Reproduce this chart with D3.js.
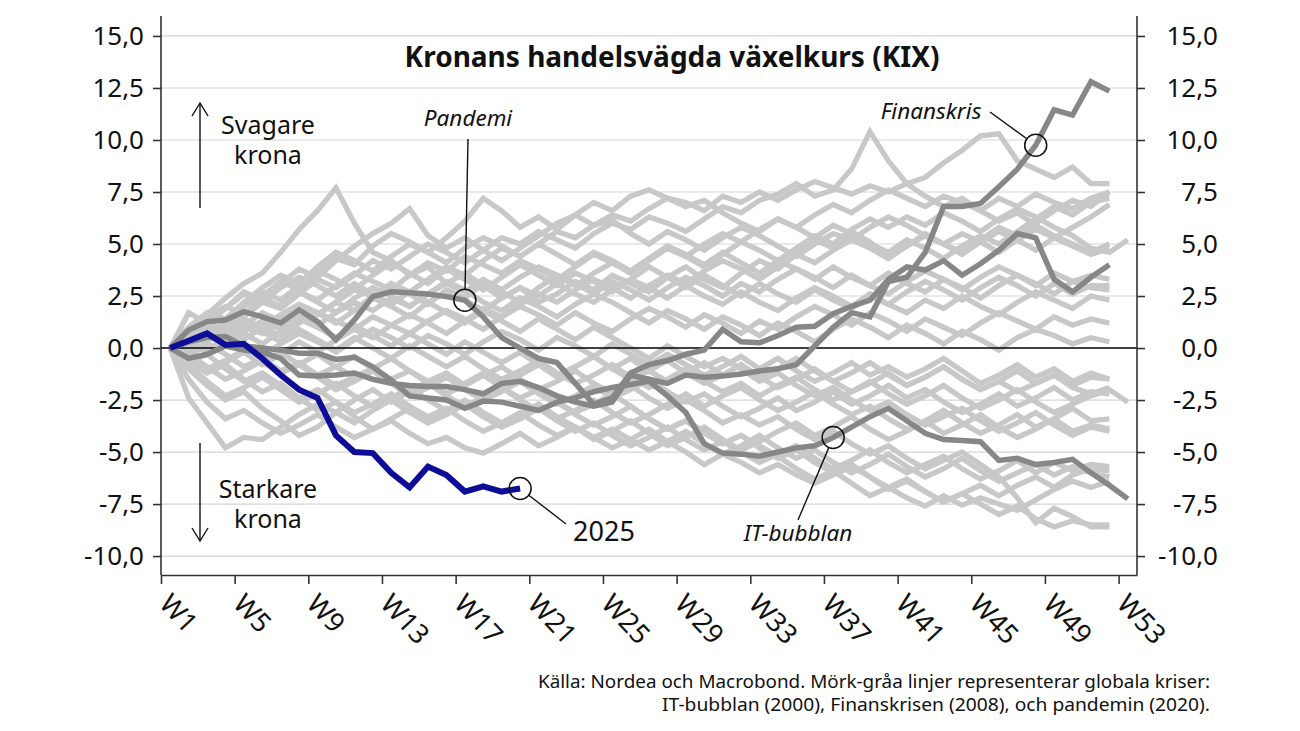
<!DOCTYPE html>
<html><head><meta charset="utf-8">
<script src="https://cdn.jsdelivr.net/npm/d3@7"></script>
<style>
body{margin:0;background:#fff}
svg{display:block}
text{font-family:"Noto Sans",sans-serif;fill:#111}
</style>
</head><body>
<svg id="chart" width="1300" height="731"></svg>
<script>
// ---------- DATA ----------
const weekTicks = [1,5,9,13,17,21,25,29,33,37,41,45,49,53];
const yTicks = [-10,-7.5,-5,-2.5,0,2.5,5,7.5,10,12.5,15];

// 2025 (blue)
const year2025 = [0,0.35,0.7,0.15,0.2,-0.5,-1.3,-2.0,-2.4,-4.2,-5.0,-5.05,-6.0,-6.7,-5.7,-6.1,-6.9,-6.65,-6.9,-6.75];

// crisis years (dark grey)
const pandemi = [0,0.87,1.27,1.35,1.75,1.5,1.2,1.83,1.27,0.4,1.35,2.47,2.7,2.66,2.6,2.47,2.3,1.5,0.5,0.0,-0.5,-0.7,-1.7,-2.7,-2.4,-1.2,-0.8,-0.6,-0.3,-0.1,0.9,0.3,0.25,0.6,1.0,1.05,1.65,2.0,2.3,3.3,3.9,3.75,4.2,3.5,4.05,4.7,5.5,5.3,3.3,2.7,3.4,4.0];
const finanskris = [0,-0.5,-0.3,0.1,-0.1,-0.2,-0.5,-1.3,-1.35,-1.3,-1.2,-1.5,-1.7,-1.8,-1.85,-1.85,-2.0,-2.2,-1.7,-1.6,-1.9,-2.3,-2.6,-2.8,-2.6,-1.3,-1.5,-1.7,-1.3,-1.4,-1.35,-1.25,-1.1,-1.0,-0.8,0.1,1.0,1.7,1.5,3.2,3.4,4.6,6.8,6.8,6.95,7.75,8.6,9.75,11.45,11.2,12.8,12.35];
const itBubblan = [0,0.3,0.5,0.55,0.1,0.0,-0.1,-0.25,-0.25,-0.55,-0.45,-0.9,-1.55,-2.3,-2.4,-2.5,-2.9,-2.55,-2.6,-2.8,-3.0,-2.6,-2.4,-2.1,-1.9,-1.75,-1.6,-2.3,-3.1,-4.6,-5.05,-5.1,-5.2,-5.0,-4.8,-4.7,-4.3,-3.8,-3.3,-2.9,-3.5,-4.1,-4.4,-4.45,-4.5,-5.4,-5.3,-5.6,-5.5,-5.35,-6.0,-6.6,-7.25];

// other years (light grey)
const otherYears = [
 [0,0.9,1.6,2.4,3.1,3.6,4.6,5.7,6.6,7.7,6.0,4.6,4.2,3.5,3.9,3.1,3.6,3.0,2.4,2.9,2.2,2.6,3.2,2.8,3.5,3.1,2.7,3.4,3.9,3.3,2.9,3.6,4.2,3.8,4.5,5.2,4.8,5.6,5.1,4.4,4.9,5.5,5.0,4.6,5.2,5.8,5.4,6.0,6.6,7.1,6.8,7.5],
 [0,0.5,1.1,0.8,1.5,2.2,1.9,2.6,3.3,2.9,3.5,4.2,3.8,4.4,5.0,4.6,4.1,4.7,5.3,5.0,5.6,5.2,4.8,5.5,6.0,5.7,6.3,6.0,5.6,6.2,6.8,6.5,7.1,7.4,7.9,7.3,7.6,8.6,10.4,9.0,7.9,7.3,6.8,7.2,6.6,6.1,6.5,5.9,5.4,5.0,4.6,5.0],
 [0,0.3,-0.2,0.4,1.0,0.7,1.3,1.9,1.6,2.2,2.8,2.5,3.1,2.7,3.3,3.9,3.5,4.2,4.8,4.4,5.0,5.6,5.3,5.9,6.4,6.1,6.7,7.2,7.0,6.6,7.3,7.0,7.5,7.1,7.6,8.0,7.7,7.4,7.8,7.5,7.9,8.2,8.9,9.5,10.2,10.3,9.0,8.6,8.2,8.7,7.9,7.9],
 [0,0.6,1.4,2.0,1.6,2.5,3.2,2.8,3.6,4.3,4.0,4.9,5.5,5.1,4.6,5.3,6.1,7.2,6.6,5.8,6.3,5.7,6.4,7.0,6.6,7.3,7.6,7.2,6.8,7.1,6.5,6.0,5.6,6.2,5.8,5.3,5.9,5.5,5.0,4.6,5.2,4.8,4.3,4.9,5.4,5.0,5.6,6.2,6.8,6.4,7.0,7.2],
 [0,0.4,1.2,1.9,2.7,2.3,3.1,3.8,3.4,4.2,4.9,5.5,6.0,6.7,5.4,4.8,5.3,4.7,4.2,4.8,5.4,6.0,6.4,5.9,6.15,5.5,5.0,5.6,5.2,4.7,5.3,5.8,5.4,4.9,4.4,5.0,5.5,5.2,5.8,6.3,5.9,5.4,5.0,5.5,5.1,4.6,5.2,5.7,5.3,5.8,6.3,6.9],
 [0,0.7,0.3,1.0,1.6,2.4,2.0,2.7,2.3,3.0,3.6,3.2,2.8,3.5,4.1,3.7,4.4,4.0,3.6,4.2,3.8,3.3,3.9,4.5,4.1,3.6,4.2,4.8,4.4,3.9,4.5,5.1,4.7,4.2,4.8,5.4,5.0,5.7,6.2,5.8,6.3,5.9,6.5,6.1,5.6,6.2,6.7,6.3,5.8,5.4,4.8,4.6,5.2],
 [0,0.2,0.8,0.5,1.1,1.7,1.3,2.0,1.6,2.2,1.8,2.5,3.0,2.6,2.1,2.8,2.4,3.1,2.7,2.2,2.9,3.5,3.1,2.6,3.2,2.8,2.3,2.9,3.4,3.0,2.5,3.1,2.7,3.3,3.8,3.4,2.9,3.5,3.0,2.6,3.2,3.7,3.3,2.8,3.4,3.9,3.5,3.0,3.6,3.2,3.5,3.3],
 [0,-0.3,0.3,0.8,0.4,1.0,0.6,1.2,1.7,1.3,0.9,1.5,1.1,0.7,1.3,1.8,1.4,0.9,1.5,2.0,1.6,1.1,1.7,1.2,0.8,1.4,1.9,1.5,1.0,1.6,1.2,0.7,1.3,0.9,1.5,2.0,1.6,1.1,1.7,1.3,0.8,1.4,1.0,0.6,1.2,1.7,1.3,0.9,1.5,1.1,1.4,1.2],
 [0,0.5,1.2,0.9,1.6,2.3,2.0,2.7,2.2,1.7,2.4,2.9,2.5,2.0,2.6,3.2,2.8,2.2,1.8,2.4,2.0,1.5,2.1,2.6,2.2,1.7,1.2,1.8,1.4,0.9,1.5,1.1,0.6,1.2,0.8,0.3,0.9,1.4,1.0,0.5,1.1,0.7,0.2,0.8,0.4,-0.1,0.5,0.9,0.6,0.2,0.5,0.3],
 [0,1.0,1.7,1.4,2.2,2.9,3.5,3.1,3.9,4.6,4.2,3.7,4.4,5.0,4.6,4.1,4.8,5.3,4.9,4.4,5.0,4.5,4.0,4.6,4.2,3.7,4.3,4.9,4.5,4.0,4.6,4.1,3.6,4.2,3.8,3.3,3.9,3.4,3.0,3.6,3.1,2.7,3.3,2.9,2.4,3.0,3.5,3.1,2.6,3.2,2.9,2.8],
 [0,1.7,1.2,0.7,1.4,1.0,1.6,2.1,1.7,1.2,1.8,2.4,2.0,1.5,2.2,2.7,2.3,1.8,2.4,2.9,2.5,3.1,2.6,2.2,2.8,3.3,2.9,2.4,3.0,2.5,2.1,2.7,2.2,1.8,2.4,2.9,2.5,2.0,2.6,2.1,1.7,2.3,1.9,2.5,2.0,1.6,2.2,2.7,2.3,1.9,2.5,2.3],
 [0,-2.4,-3.6,-4.8,-4.3,-4.4,-3.8,-3.2,-2.7,-3.1,-2.5,-2.0,-2.6,-2.1,-1.6,-2.2,-1.7,-1.2,-1.8,-1.3,-0.8,-1.4,-0.9,-0.4,-1.0,-0.5,-1.1,-1.6,-1.2,-0.7,-1.3,-0.8,-1.4,-1.9,-1.5,-1.0,-1.6,-2.1,-1.7,-1.2,-1.8,-1.4,-0.9,-1.5,-2.0,-1.6,-1.1,-1.7,-1.3,-1.8,-1.4,-1.5],
 [0,-0.6,-1.2,-0.8,-1.5,-2.1,-1.7,-2.4,-3.0,-2.6,-3.3,-3.9,-3.5,-4.1,-4.6,-4.3,-4.8,-5.05,-4.6,-4.1,-4.7,-4.3,-3.8,-4.4,-4.0,-3.5,-4.1,-4.7,-4.3,-3.8,-4.4,-4.9,-4.5,-4.0,-3.6,-4.2,-3.8,-3.3,-3.9,-4.4,-4.0,-3.5,-4.1,-3.7,-3.2,-3.8,-4.3,-3.9,-3.4,-4.0,-3.7,-3.9],
 [0,-1.0,-1.8,-2.5,-2.1,-2.9,-3.5,-4.2,-3.8,-3.1,-3.6,-3.0,-2.5,-3.1,-3.6,-3.2,-2.7,-3.3,-3.8,-3.4,-2.9,-3.5,-4.0,-3.6,-4.2,-4.7,-4.3,-3.8,-4.4,-4.9,-4.5,-5.0,-5.5,-5.1,-4.7,-5.3,-5.8,-5.4,-4.9,-5.5,-6.0,-5.6,-5.2,-5.8,-6.3,-5.9,-5.4,-6.0,-5.5,-5.9,-5.6,-5.7],
 [0,-0.4,0.2,-0.3,-0.9,-0.5,-1.1,-0.7,-1.3,-1.8,-1.4,-1.0,-1.6,-2.1,-1.7,-2.3,-2.8,-2.4,-1.9,-2.5,-3.0,-2.6,-3.2,-3.7,-3.3,-2.8,-3.4,-3.9,-3.5,-4.1,-4.6,-4.2,-4.8,-5.3,-4.9,-5.5,-6.0,-5.6,-6.2,-6.7,-6.3,-6.9,-7.4,-7.0,-7.5,-8.0,-7.6,-8.2,-8.6,-8.3,-8.5,-8.5],
 [0,0.3,-0.2,0.4,-0.1,-0.6,-0.2,-0.8,-1.3,-0.9,-0.4,-1.0,-1.5,-1.1,-1.7,-2.2,-1.8,-1.3,-1.9,-2.4,-2.0,-2.6,-3.1,-2.7,-2.2,-2.8,-3.4,-3.9,-3.5,-4.0,-4.6,-4.2,-4.7,-5.2,-5.8,-6.3,-5.9,-6.5,-7.1,-6.7,-7.2,-7.6,-7.1,-7.55,-7.2,-7.5,-7.8,-7.3,-6.8,-6.4,-6.7,-6.4],
 [0,-0.5,-1.0,-0.6,-0.1,-0.7,-1.2,-0.8,-0.3,-0.9,-1.4,-1.0,-0.5,-1.1,-1.6,-1.2,-1.8,-1.3,-0.9,-1.5,-2.0,-1.6,-1.1,-1.7,-2.2,-1.8,-2.4,-2.9,-2.5,-3.0,-3.6,-3.2,-3.7,-3.3,-3.9,-4.4,-4.0,-4.6,-5.1,-4.7,-5.3,-5.8,-5.4,-5.0,-5.6,-6.2,-7.2,-8.4,-7.7,-8.1,-8.6,-8.6],
 [0,0.5,1.0,0.6,1.2,0.8,0.3,0.9,0.4,-0.1,0.5,0.0,-0.5,0.1,-0.4,-0.9,-0.4,-1.0,-1.5,-1.1,-0.6,-1.2,-1.7,-1.3,-0.8,-1.4,-1.9,-1.5,-1.0,-1.6,-2.1,-1.7,-2.3,-1.8,-1.4,-2.0,-2.5,-2.1,-1.6,-2.2,-2.7,-2.3,-1.8,-2.4,-2.9,-2.5,-2.0,-2.6,-3.1,-2.7,-2.3,-2.0,-2.6],
 [0,-0.8,-1.6,-2.3,-1.9,-1.4,-2.0,-2.6,-2.2,-1.7,-2.3,-2.8,-2.4,-1.9,-2.5,-3.0,-2.6,-3.2,-3.7,-3.3,-2.8,-3.4,-3.0,-2.5,-3.1,-3.6,-3.2,-2.7,-2.2,-2.8,-2.3,-1.9,-2.5,-3.0,-2.6,-2.1,-2.7,-3.2,-2.8,-3.4,-3.9,-3.5,-3.0,-3.6,-4.1,-3.7,-3.2,-3.8,-3.4,-2.9,-3.5,-3.4],
 [0,-0.2,0.5,1.1,0.7,0.2,0.8,1.4,1.0,0.5,1.1,0.6,0.1,0.7,0.2,-0.3,0.3,-0.2,-0.7,-0.2,-0.8,-1.3,-0.9,-0.4,-1.0,-1.5,-1.1,-0.6,-1.2,-1.7,-1.3,-0.8,-1.4,-1.0,-0.5,-1.1,-1.6,-1.2,-0.7,-1.3,-1.8,-1.4,-0.9,-1.5,-2.0,-1.6,-2.1,-1.7,-1.3,-1.9,-2.2,-1.9],
 [0,-0.3,-0.9,-1.5,-1.1,-0.6,-1.2,-0.8,-1.4,-2.0,-1.6,-1.1,-1.7,-2.3,-1.9,-1.4,-2.0,-2.5,-2.1,-1.6,-2.2,-2.7,-2.3,-1.8,-2.4,-2.0,-1.5,-2.1,-2.6,-2.2,-2.8,-3.3,-2.9,-2.4,-3.0,-2.6,-2.1,-2.7,-2.3,-1.8,-2.4,-2.0,-2.6,-3.1,-2.7,-2.2,-2.8,-2.4,-1.9,-2.5,-2.1,-2.2],
 [0,0.9,0.5,1.3,2.0,2.7,2.3,3.0,3.7,3.3,2.8,3.5,4.1,3.6,3.1,3.8,3.3,2.8,3.4,4.0,3.5,3.0,3.6,3.2,2.7,3.3,3.9,3.4,2.9,3.5,3.0,2.5,3.1,2.6,2.2,2.8,2.3,1.9,2.5,2.1,2.7,3.2,2.8,2.3,2.9,3.4,3.0,2.5,3.1,2.6,3.0,3.0],
 [0,0.4,-0.1,0.5,0.1,-0.4,0.2,0.7,0.3,-0.2,0.4,0.9,0.5,0.0,0.6,0.2,-0.3,0.3,0.8,0.4,-0.1,0.5,0.1,-0.4,0.2,-0.3,-0.8,-0.3,-0.8,-1.3,-0.9,-0.4,-1.0,-0.5,-1.1,-1.6,-1.2,-0.7,-1.3,-0.9,-1.4,-1.0,-0.5,-1.1,-1.7,-1.3,-0.8,-1.4,-1.0,-1.6,-1.2,-1.5],
 [0,-0.7,-0.3,-1.0,-1.6,-1.2,-1.8,-2.4,-2.0,-2.6,-3.1,-2.7,-2.2,-2.8,-3.3,-2.9,-3.5,-4.0,-3.6,-3.1,-3.7,-4.2,-3.8,-4.3,-4.8,-4.4,-3.9,-4.5,-5.0,-5.6,-5.1,-5.5,-6.0,-5.6,-6.1,-6.5,-6.1,-5.7,-6.2,-6.8,-6.4,-6.9,-7.4,-7.0,-6.6,-7.1,-6.6,-6.2,-6.7,-6.1,-5.8,-5.9],
 [0,0.1,0.6,0.2,0.8,1.3,0.9,1.5,1.1,1.7,2.2,1.8,2.4,2.0,2.6,3.1,2.7,3.3,2.8,3.4,3.9,3.5,3.0,3.6,4.1,3.7,4.3,4.8,4.4,5.0,5.5,5.1,5.7,6.2,5.8,6.4,6.9,6.5,7.1,7.6,7.2,6.8,7.3,7.0,6.6,7.2,6.8,7.4,7.0,6.7,7.2,7.5],
 [0,0.6,1.3,1.9,2.6,2.2,2.9,3.4,3.0,2.5,3.1,2.6,2.1,2.7,2.2,1.7,1.2,1.8,1.3,0.8,1.4,0.9,0.4,1.0,0.5,0.0,-0.5,0.1,-0.4,-0.9,-0.5,-1.0,-1.6,-1.2,-1.8,-2.3,-1.9,-2.5,-3.0,-2.6,-3.2,-3.7,-3.3,-2.9,-3.5,-4.0,-3.6,-3.1,-3.7,-4.2,-3.8,-4.0],
 [0,-0.5,-1.1,-0.7,-0.2,-0.8,-0.3,0.3,-0.2,0.4,0.9,0.5,1.1,1.6,1.2,0.7,1.3,1.9,1.5,2.1,2.6,2.2,2.8,3.3,2.9,2.4,3.0,3.5,3.1,3.7,4.2,3.8,3.3,3.9,4.5,4.1,4.7,5.2,4.8,4.3,4.9,5.4,5.0,4.5,5.1,5.6,5.2,4.7,5.3,4.9,4.5,4.8],
 [0,-1.5,-2.6,-3.4,-3.0,-3.6,-4.1,-3.7,-3.2,-3.8,-4.3,-3.9,-3.4,-2.9,-3.5,-3.0,-2.5,-3.1,-3.6,-3.2,-2.7,-3.3,-3.8,-4.3,-3.9,-4.4,-4.9,-4.5,-4.0,-4.6,-5.1,-4.7,-4.2,-4.8,-5.3,-4.9,-5.5,-6.0,-5.6,-5.1,-5.7,-6.2,-5.8,-5.3,-5.9,-6.4,-6.0,-5.6,-6.1,-5.7,-6.0,-6.2]
];

// ---------- CHART ----------
const svg = d3.select("#chart");
const plotL = 161, plotR = 1137, plotT = 16, plotB = 575;
const x = d3.scaleLinear().domain([0.5, 53.5]).range([plotL, plotR]);
const y = d3.scaleLinear().domain([-10.91, 15.96]).range([plotB, plotT]);
const loc = d3.formatLocale({decimal:",", thousands:" ", grouping:[3], currency:["","kr"], minus:"-"});
const fmt = loc.format(".1f");

// grid
svg.append("g").selectAll("line").data(yTicks.filter(d=>d!==0)).join("line")
  .attr("x1", plotL).attr("x2", plotR)
  .attr("y1", d=>y(d)).attr("y2", d=>y(d))
  .attr("stroke", "#d6d6d6").attr("stroke-width", 1.2);

const line = d3.line().x((d,i)=>x(i+1)).y(d=>y(d));

// light lines
svg.append("g").selectAll("path").data(otherYears).join("path")
  .attr("d", line).attr("fill","none")
  .attr("stroke","#c8c8c9").attr("stroke-width",5.3);

// zero line
svg.append("line").attr("x1", plotL).attr("x2", plotR)
  .attr("y1", y(0)).attr("y2", y(0)).attr("stroke","#000").attr("stroke-width",1.4);

// crisis lines
svg.append("g").selectAll("path").data([itBubblan, finanskris, pandemi]).join("path")
  .attr("d", line).attr("fill","none")
  .attr("stroke","#878787").attr("stroke-width",5.5);

// 2025
svg.append("path").datum(year2025).attr("d", line).attr("fill","none")
  .attr("stroke","#0d0d98").attr("stroke-width",6);

// axes
const axL = svg.append("g").attr("transform",`translate(${plotL},0)`)
  .call(d3.axisLeft(y).tickValues(yTicks).tickSize(8).tickSizeOuter(0).tickPadding(9).tickFormat(fmt));
const axR = svg.append("g").attr("transform",`translate(${plotR},0)`)
  .call(d3.axisRight(y).tickValues(yTicks).tickSize(8).tickSizeOuter(0).tickFormat(fmt));
axR.selectAll("text").attr("text-anchor","end").attr("x", 81);
const axB = svg.append("g").attr("transform",`translate(0,${plotB})`)
  .call(d3.axisBottom(x).tickValues(weekTicks.map(w=>w-0.5)).tickSize(9).tickSizeOuter(0).tickFormat(""));
[axL, axR, axB].forEach(a=>{
  a.select(".domain").attr("stroke","#333").attr("stroke-width",1.6);
  a.selectAll(".tick line").attr("stroke","#333").attr("stroke-width",1.6);
  a.selectAll("text").style("font-family","'Noto Sans',sans-serif").style("font-size","26px").attr("fill","#111");
});
axL.select(".domain").attr("d", `M0,${plotT}V${plotB}`);
axR.select(".domain").attr("d", `M0,${plotT}V${plotB}`);

// rotated week labels
svg.append("g").selectAll("text").data(weekTicks).join("text")
  .attr("transform", w=>`translate(${x(w-0.5)-3},${plotB+30}) rotate(47)`)
  .attr("text-anchor","start")
  .style("font-size","27px")
  .text(w=>"W"+w);

// title
svg.append("text").attr("x",672).attr("y",67).attr("text-anchor","middle")
  .style("font-size","28px").style("font-weight","bold").text("Kronans handelsvägda växelkurs (KIX)");

// direction notes
const note = (lines, cx, y0) => {
  lines.forEach((t,i)=>svg.append("text").attr("x",cx).attr("y",y0+i*30)
    .attr("text-anchor","middle").style("font-size","25px").text(t));
};
note(["Svagare","krona"], 268, 134);
note(["Starkare","krona"], 268, 498);
const arrow = (x0, y1, y2) => {
  const dir = Math.sign(y2 - y1);
  svg.append("line").attr("x1",x0).attr("x2",x0).attr("y1",y1).attr("y2",y2)
    .attr("stroke","#111").attr("stroke-width",1.4);
  svg.append("path").attr("d",`M${x0-8},${y2-dir*13}L${x0},${y2}L${x0+8},${y2-dir*13}`)
    .attr("fill","none").attr("stroke","#111").attr("stroke-width",1.4);
};
arrow(200, 208, 103);
arrow(200, 443, 541);

// annotations
const rad = 11;
function annotate(series, week, px, py, label, lx, ly, opts){
  const cx = x(week), cy = y(series[week-1]);
  svg.append("circle").attr("cx",cx).attr("cy",cy).attr("r",rad)
    .attr("fill","none").attr("stroke","#111").attr("stroke-width",1.5);
  const dx = px-cx, dy = py-cy, L = Math.hypot(dx,dy);
  svg.append("line").attr("x1",px).attr("y1",py)
    .attr("x2",cx+dx/L*rad).attr("y2",cy+dy/L*rad)
    .attr("stroke","#111").attr("stroke-width",1.4);
  svg.append("text").attr("x",lx).attr("y",ly).attr("text-anchor","middle")
    .style("font-size",opts.size).style("font-style",opts.italic?"italic":"normal").text(label);
}
annotate(pandemi, 17, 468, 139, "Pandemi", 468, 126, {size:"22.5px", italic:true});
annotate(finanskris, 48, 990, 112, "Finanskris", 931, 119, {size:"22.5px", italic:true});
annotate(itBubblan, 37, 798, 520, "IT-bubblan", 798, 541, {size:"22.5px", italic:true});
annotate(year2025, year2025.length, 566, 524, "2025", 604, 541, {size:"27px", italic:false});

// source
const src = ["Källa: Nordea och Macrobond. Mörk-gråa linjer representerar globala kriser:",
             "IT-bubblan (2000), Finanskrisen (2008), och pandemin (2020)."];
const srcW = [672, 548];
src.forEach((t,i)=>{
  svg.append("text").attr("x",1210).attr("y",688+i*23).attr("text-anchor","end")
    .style("font-size","18.5px").attr("textLength",srcW[i]).attr("lengthAdjust","spacingAndGlyphs").text(t);
});
</script>
</body></html>
